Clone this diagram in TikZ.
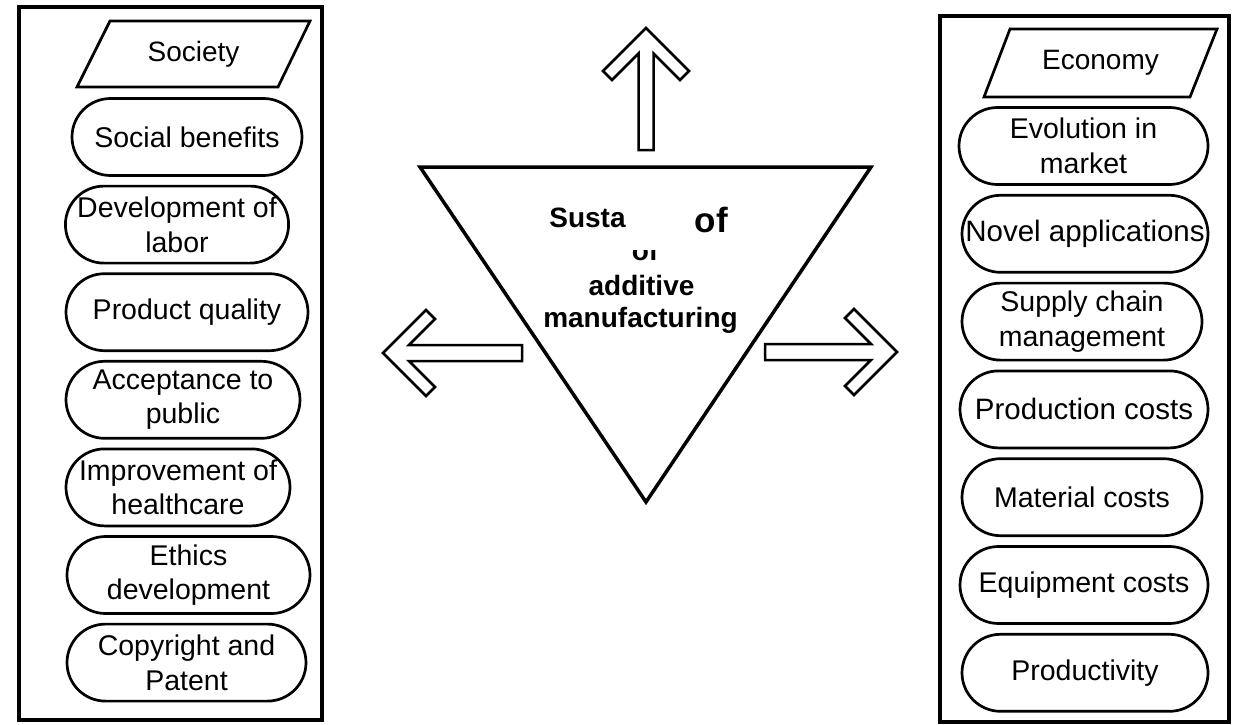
\documentclass[tikz,border=0pt]{standalone}
\usepackage{fontspec}
\setmainfont{Liberation Sans}
\usetikzlibrary{shapes.misc}
\begin{document}
\begin{tikzpicture}[x=1pt,y=-1pt,
  frame/.style={draw=black,line width=3.5pt},
  pill/.style={rounded rectangle,draw=black,line width=2.7pt,minimum height=77pt,inner sep=0pt,align=center,font=\fontsize{28.5}{34.5}\selectfont},
  para/.style={draw=black,line width=2.7pt,line join=miter},
  label/.style={inner sep=0pt,font=\fontsize{28}{33}\selectfont},
  ctext/.style={inner sep=0pt,anchor=base,font=\bfseries\fontsize{28}{33}\selectfont},
  fatarrow/.style={draw=black,line width=2.5pt,line join=miter,fill=white}]
\useasboundingbox (0,0) rectangle (1236,725);
% frames
\draw[frame] (19,7) rectangle (322,720);
\draw[frame] (940,16) rectangle (1229,722);
% Society header
\draw[para] (110,21) -- (310,21) -- (278,87) -- (77,87) -- cycle;
\node[label] (soc) at (193.5,54) {Society};
% Left pills
\node[pill,minimum width=230pt] (l1) at (187,137) {Social benefits};
\node[pill,minimum width=222pt] (l2) at (177,224.6) {Development of\\labor};
\node[pill,minimum width=242pt] (l3) at (187,312.2) {Product quality};
\node[pill,minimum width=234pt] (l4) at (183,399.8) {Acceptance to\\public};
\node[pill,minimum width=224pt] (l5) at (178,487.4) {Improvement of\\healthcare};
\node[pill,minimum width=243pt] (l6) at (188.5,575) {Ethics\\development};
\node[pill,minimum width=239pt] (l7) at (186.5,662.6) {Copyright and\\Patent};
% Economy header
\draw[para] (1010,29) -- (1217,29) -- (1190,97) -- (984,97) -- cycle;
\node[label] (eco) at (1100.5,63) {Economy};
% Right pills
\node[pill,minimum width=249pt] (r1) at (1083.5,146) {Evolution in\\market};
\node[pill,minimum width=246pt,font=\fontsize{29.5}{34.5}\selectfont] (r2) at (1085,233.8) {Novel applications};
\node[pill,minimum width=240pt] (r3) at (1082,321.6) {Supply chain\\management};
\node[pill,minimum width=248pt,font=\fontsize{29.5}{34.5}\selectfont] (r4) at (1084,409.4) {Production costs};
\node[pill,minimum width=240pt] (r5) at (1082,497.2) {Material costs};
\node[pill,minimum width=248pt] (r6) at (1084,585) {Equipment costs};
\node[pill,minimum width=246pt] (r7) at (1085,672.8) {Productivity};
% Central triangle
\draw[draw=black,line width=3.5pt,line join=miter] (420,167) -- (871,167) -- (646,502) -- cycle;
\node[ctext] (c1) at (587.5,227) {Susta};
\node[ctext,font=\bfseries\fontsize{35}{40}\selectfont] (c2) at (711.5,232) {of};
\begin{scope}
  \clip (600,250) rectangle (690,270);
  \node[ctext] (c3) at (645,260) {of};
\end{scope}
\node[ctext] (c4) at (641.5,295) {additive};
\node[ctext] (c5) at (640.5,327) {manufacturing};
% Up arrow
\draw[fatarrow] (646,28) -- (689,71) -- (680,80) -- (653.5,53.5) -- (653.5,150) -- (638.5,150) -- (638.5,53.5) -- (612,80) -- (603,71) -- cycle;
% Left arrow
\draw[fatarrow] (383,353) -- (426,310) -- (435,319) -- (409,345) -- (522,345) -- (522,361) -- (409,361) -- (435,387) -- (426,396) -- cycle;
% Right arrow
\draw[fatarrow] (897,352) -- (854,309) -- (845,318) -- (871,344) -- (765,344) -- (765,360) -- (871,360) -- (845,386) -- (854,395) -- cycle;
\end{tikzpicture}
\end{document}
